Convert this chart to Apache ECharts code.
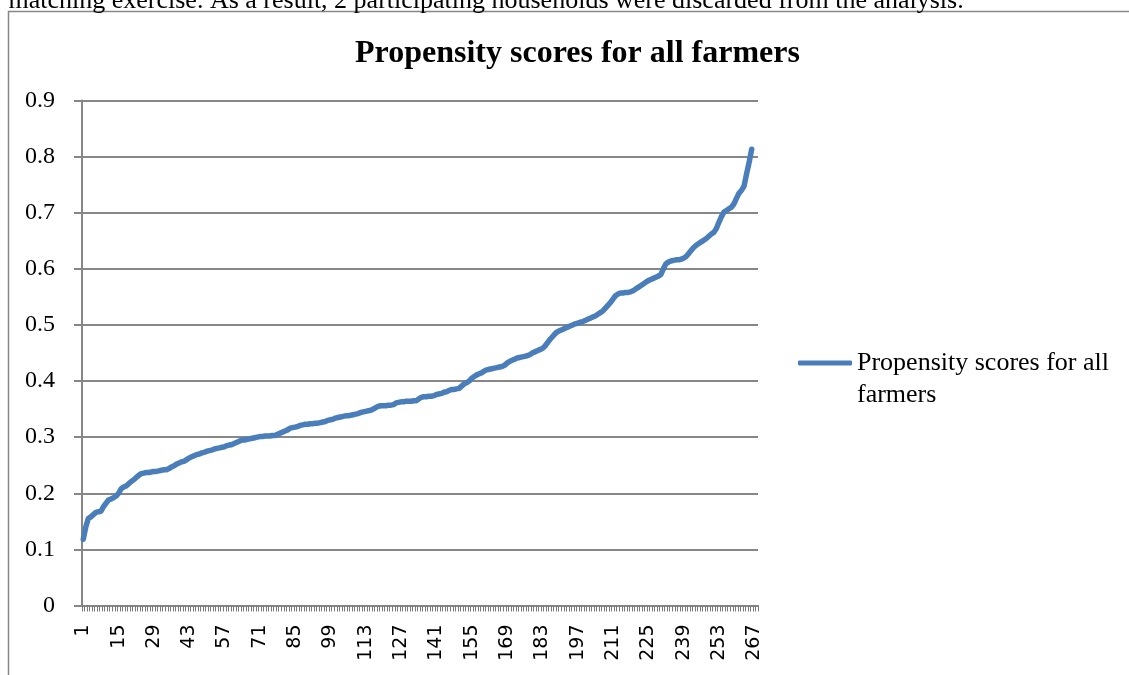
<!DOCTYPE html>
<html>
<head>
<meta charset="utf-8">
<script src="https://cdn.jsdelivr.net/npm/echarts@6/dist/echarts.min.js"></script>
<style>
html,body{margin:0;padding:0;background:#fff;}
#chart{width:1129px;height:675px;}
</style>
</head>
<body>
<div id="chart"></div>
<script>
// ---- data ----
var categoryCount = 268;
var categories = [];
for (var k = 1; k <= categoryCount; k++) categories.push(String(k));

var seriesName = 'Propensity scores for all farmers';
var legendLines = ['Propensity scores for all', 'farmers'];
var propensityScores = [
  0.118, 0.140, 0.155, 0.158, 0.162, 0.166, 0.167, 0.168, 0.176, 0.182,
  0.188, 0.190, 0.192, 0.195, 0.200, 0.208, 0.211, 0.213, 0.217, 0.221,
  0.224, 0.228, 0.232, 0.235, 0.236, 0.237, 0.237, 0.238, 0.239, 0.239,
  0.240, 0.241, 0.242, 0.242, 0.244, 0.247, 0.249, 0.252, 0.254, 0.256,
  0.257, 0.260, 0.263, 0.265, 0.267, 0.269, 0.270, 0.272, 0.273, 0.275,
  0.276, 0.277, 0.279, 0.280, 0.281, 0.282, 0.283, 0.285, 0.286, 0.287,
  0.289, 0.291, 0.293, 0.295, 0.295, 0.296, 0.297, 0.298, 0.299, 0.300,
  0.301, 0.301, 0.302, 0.302, 0.302, 0.303, 0.303, 0.305, 0.307, 0.309,
  0.311, 0.313, 0.316, 0.317, 0.318, 0.319, 0.321, 0.322, 0.323, 0.323,
  0.324, 0.324, 0.325, 0.325, 0.326, 0.327, 0.328, 0.330, 0.331, 0.332,
  0.334, 0.335, 0.336, 0.337, 0.338, 0.338, 0.339, 0.340, 0.341, 0.342,
  0.344, 0.345, 0.346, 0.347, 0.348, 0.350, 0.353, 0.355, 0.356, 0.356,
  0.356, 0.357, 0.357, 0.358, 0.361, 0.362, 0.363, 0.363, 0.364, 0.364,
  0.364, 0.365, 0.365, 0.368, 0.371, 0.372, 0.372, 0.373, 0.373, 0.374,
  0.376, 0.377, 0.378, 0.380, 0.381, 0.383, 0.385, 0.385, 0.386, 0.387,
  0.391, 0.395, 0.397, 0.400, 0.405, 0.408, 0.411, 0.413, 0.415, 0.418,
  0.420, 0.421, 0.422, 0.423, 0.424, 0.425, 0.426, 0.428, 0.432, 0.435,
  0.437, 0.439, 0.441, 0.442, 0.443, 0.444, 0.445, 0.447, 0.450, 0.452,
  0.454, 0.456, 0.458, 0.462, 0.468, 0.474, 0.479, 0.484, 0.488, 0.490,
  0.492, 0.494, 0.496, 0.498, 0.500, 0.502, 0.503, 0.505, 0.506, 0.508,
  0.510, 0.512, 0.514, 0.516, 0.519, 0.522, 0.525, 0.530, 0.535, 0.540,
  0.546, 0.552, 0.555, 0.557, 0.557, 0.558, 0.558, 0.559, 0.561, 0.564,
  0.567, 0.570, 0.573, 0.576, 0.579, 0.581, 0.583, 0.585, 0.587, 0.590,
  0.600, 0.609, 0.612, 0.614, 0.615, 0.616, 0.616, 0.617, 0.619, 0.622,
  0.627, 0.633, 0.638, 0.642, 0.645, 0.648, 0.651, 0.654, 0.658, 0.662,
  0.665, 0.672, 0.683, 0.693, 0.701, 0.704, 0.707, 0.710, 0.716, 0.726,
  0.735, 0.740, 0.748, 0.770, 0.790, 0.813
];

var yMin = 0, yMax = 0.9, yStep = 0.1;
var titleText = 'Propensity scores for all farmers';
var pageText = 'y matching exercise. As a result, 2 participating households were discarded from the analysis.';

// ---- chart ----
var serif = '"Liberation Serif","Times New Roman",serif';
var gray = '#878787';
var chart = echarts.init(document.getElementById('chart'), null, {renderer: 'canvas'});
chart.setOption({
  animation: false,
  backgroundColor: '#ffffff',
  title: {
    text: titleText,
    left: 350,
    top: 33,
    textStyle: {fontFamily: serif, fontWeight: 'bold', fontSize: 32, color: '#000'}
  },
  legend: {
    left: 793,
    top: 310,
    icon: 'roundRect',
    itemWidth: 54,
    itemHeight: 5,
    data: [{name: seriesName, itemStyle: {color: '#4A7EBB'}}],
    // empty first line keeps the first text line level with the legend line sample
    formatter: function () { return '\n' + legendLines.join('\n'); },
    textStyle: {fontFamily: serif, fontSize: 26, color: '#000', lineHeight: 32}
  },
  grid: {left: 82, right: 371, top: 100.5, bottom: 69.5, containLabel: false},
  xAxis: {
    type: 'category',
    data: categories,
    boundaryGap: true,
    axisLine: {lineStyle: {color: gray, width: 2}},
    axisTick: {show: true, interval: 0, length: 6, lineStyle: {color: '#7a7a7a', width: 1}},
    axisLabel: {interval: 13, rotate: 90, margin: 19, fontFamily: '"DejaVu Sans",sans-serif', fontSize: 19, color: '#000'},
    splitLine: {show: false}
  },
  yAxis: {
    type: 'value',
    min: yMin, max: yMax, interval: yStep,
    axisLine: {show: true, lineStyle: {color: gray, width: 2}},
    axisTick: {show: true, length: 8, lineStyle: {color: gray, width: 2}},
    axisLabel: {
      margin: 27, fontFamily: serif, fontSize: 24, color: '#000',
      formatter: function (v) { return String(Math.round(v * 10) / 10); }
    },
    splitLine: {show: true, lineStyle: {color: gray, width: 2}}
  },
  series: [{
    name: seriesName,
    type: 'line',
    data: propensityScores,
    symbol: 'none',
    smooth: false,
    lineStyle: {color: '#4A7EBB', width: 5.5, cap: 'round', join: 'round'},
    itemStyle: {color: '#4A7EBB'}
  }],
  graphic: [
    {type: 'line', shape: {x1: 8.5, y1: 11, x2: 8.5, y2: 675}, style: {stroke: gray, lineWidth: 1.5}, silent: true},
    {type: 'line', shape: {x1: 8, y1: 11.5, x2: 1129, y2: 11.5}, style: {stroke: gray, lineWidth: 1.5}, silent: true},
    {type: 'text', left: -11, top: -12, style: {text: pageText, font: '26px ' + serif, fill: '#000'}, silent: true}
  ]
});
</script>
</body>
</html>
